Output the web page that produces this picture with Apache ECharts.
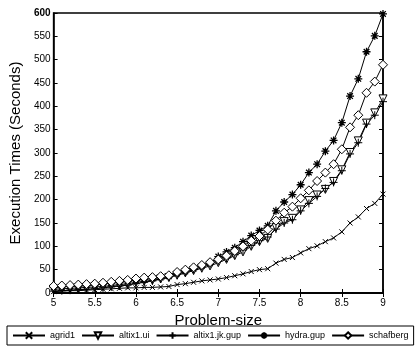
<!DOCTYPE html>
<html><head><meta charset="utf-8">
<script src="https://cdn.jsdelivr.net/npm/echarts@6/dist/echarts.min.js"></script>
<style>html,body{margin:0;padding:0;background:#fff}#c{width:418px;height:357px}</style>
</head><body><div id="c"></div>
<script>
const problemSize = [5.0,5.1,5.2,5.3,5.4,5.5,5.6,5.7,5.8,5.9,6.0,6.1,6.2,6.3,6.4,6.5,6.6,6.7,6.8,6.9,7.0,7.1,7.2,7.3,7.4,7.5,7.6,7.7,7.8,7.9,8.0,8.1,8.2,8.3,8.4,8.5,8.6,8.7,8.8,8.9,9.0];
const agrid1 = [3,4,5,5,6,7,8,9,10,11, 11,12,12,13,14,18,20,23,26,28, 30,33,37,41,46,50,52,64,72,76, 86,95,101,110,118,131,150,163,181,192, 212];
const altix1ui = [8,9,10,11,12,13,14,16,18,20, 23,25,27,30,33,38,43,48,53,58, 65,72,80,88,100,110,117,140,153,160, 178,198,210,222,239,264,301,326,364,386, 416];
const altix1jkgup = [4,5,6,7,8,9,11,13,15,17, 20,23,26,30,34,40,45,50,56,62, 68,75,82,92,102,112,120,137,150,157, 176,192,207,224,237,262,298,322,362,381, 410];
const hydragup = [12,13,14,15,16,17,19,21,23,25, 27,29,31,33,36,42,46,52,58,64, 78,88,97,110,123,134,144,176,195,211, 232,258,276,304,327,365,422,459,517,551, 598];
const schafberg = [15,16,17,18,19,20,22,24,26,28, 31,33,34,36,38,45,50,55,60,66, 72,80,90,100,112,122,136,155,172,185, 203,220,240,258,276,308,355,381,429,453, 489];
const seriesNames = ['agrid1','altix1.ui','altix1.jk.gup','hydra.gup','schafberg'];
const yTicks = [0,50,100,150,200,250,300,350,400,450,500,550,600];
const xTicks = [5,5.5,6,6.5,7,7.5,8,8.5,9];

const symX = 'path://M0,0 L10,10 M10,0 L0,10';
const symTri = 'path://M0,0 L10,0 L5,9 Z';
const symPlus = 'path://M5,0 L5,10 M0,5 L10,5';
const symStar = 'path://M5,0 L5,10 M0,5 L10,5 M1.5,1.5 L8.5,8.5 M8.5,1.5 L1.5,8.5';
const symDia = 'path://M5,0 L10,5 L5,10 L0,5 Z';

function pairs(arr){ return arr.map((v,i)=>[problemSize[i], v]); }
function mk(name, data, sym, size, fill, bw){
  return {name, type:'line', data:pairs(data), symbol:sym, symbolSize:size, showSymbol:true,
    lineStyle:{color:'#000', width:1}, itemStyle:{color:fill, borderColor:'#000', borderWidth:bw},
    emphasis:{disabled:true}, animation:false};
}
const font = 'Liberation Sans, Arial, sans-serif';
const chart = echarts.init(document.getElementById('c'), null, {renderer:'canvas'});
chart.setOption({
  animation:false,
  grid:{left:46, right:35, top:13, bottom:64, show:true, borderColor:'#000', borderWidth:1.5},
  xAxis:[{type:'value', min:5, max:9, interval:0.5, position:'bottom',
    axisLine:{show:true, lineStyle:{color:'#000', width:1.5}},
    axisTick:{show:true, inside:true, length:4, lineStyle:{color:'#000'}},
    axisLabel:{color:'#000', fontSize:10, fontFamily:font, margin:5, formatter:v=>String(v)},
    splitLine:{show:false},
    name:'Problem-size', nameLocation:'middle', nameGap:17,
    nameTextStyle:{color:'#000', fontSize:15, fontFamily:font}},
   {type:'value', min:5, max:9, interval:0.5, position:'top',
    axisLine:{show:true, lineStyle:{color:'#000', width:1.5}},
    axisTick:{show:true, inside:true, length:4, lineStyle:{color:'#000'}},
    axisLabel:{show:false}, splitLine:{show:false}}],
  yAxis:[{type:'value', min:0, max:600, interval:50, position:'left',
    axisLine:{show:true, lineStyle:{color:'#000', width:1.5}},
    axisTick:{show:true, inside:true, length:4, lineStyle:{color:'#000'}},
    axisLabel:{color:'#000', fontSize:10, fontFamily:font, margin:3,
      formatter:v=> v===600 ? '{b|600}' : String(v),
      rich:{b:{fontWeight:'bold', fontSize:10, fontFamily:font, color:'#000'}}},
    splitLine:{show:false},
    name:'Execution Times (Seconds)', nameLocation:'middle', nameGap:25,
    nameTextStyle:{color:'#000', fontSize:15, fontFamily:font}},
   {type:'value', min:0, max:600, interval:50, position:'right',
    axisLine:{show:true, lineStyle:{color:'#000', width:1.5}},
    axisTick:{show:true, inside:true, length:4, lineStyle:{color:'#000'}},
    axisLabel:{show:false}, splitLine:{show:false}}],
  legend:{data:seriesNames, left:7, top:326, orient:'horizontal',
    borderColor:'#000', borderWidth:1, padding:[5,5,5,5], itemGap:6,
    itemWidth:32, itemHeight:8, backgroundColor:'#fff',
    textStyle:{color:'#000', fontSize:9, fontFamily:font}},
  series:[
    mk(seriesNames[0], agrid1, symX, 5, '#000', 1),
    mk(seriesNames[1], altix1ui, symTri, 8, '#fff', 1),
    mk(seriesNames[2], altix1jkgup, symPlus, 8, '#000', 1),
    mk(seriesNames[3], hydragup, symStar, 8, '#000', 1.3),
    mk(seriesNames[4], schafberg, symDia, 9, '#fff', 1)
  ]
});
</script></body></html>
